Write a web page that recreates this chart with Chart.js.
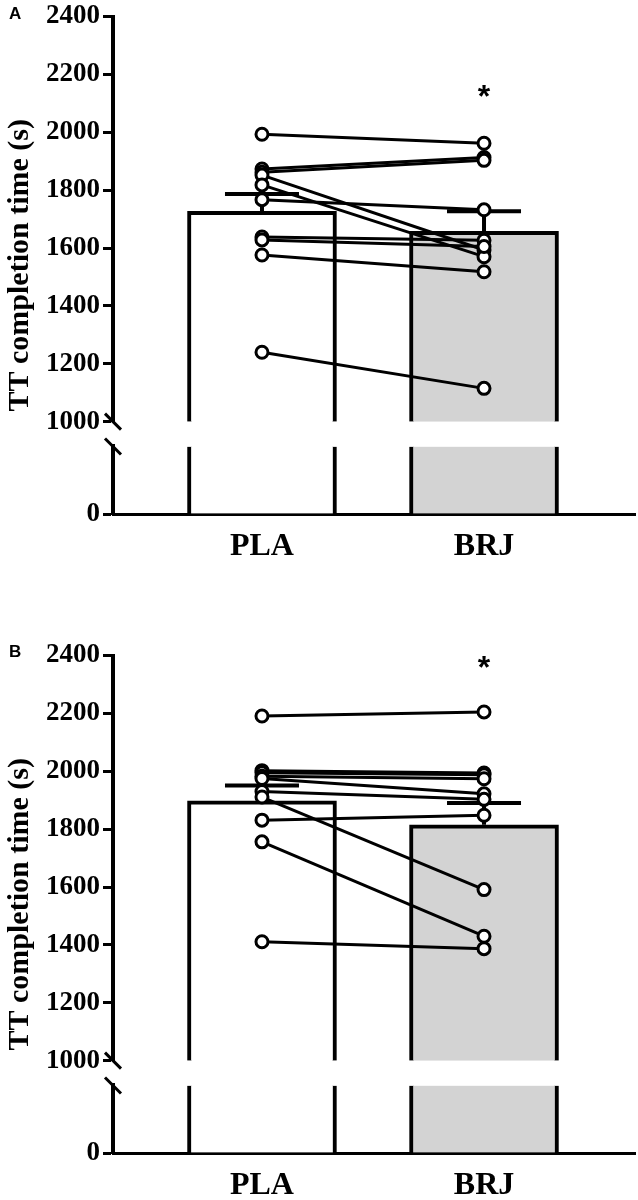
<!DOCTYPE html>
<html>
<head>
<meta charset="utf-8">
<script src="https://cdn.jsdelivr.net/npm/chart.js@4.4.1/dist/chart.umd.min.js"></script>
<style>
  body { margin: 0; background: #fff; width: 638px; height: 1200px; position: relative; overflow: hidden; }
  .panel { position: absolute; left: 0; width: 638px; }
  .tag { position: absolute; left: 9px; font: bold 17px "Liberation Sans", Arial, sans-serif; color: #000; }
</style>
</head>
<body>
<div class="panel" style="top:0"><canvas id="chartA" width="638" height="575"></canvas></div>
<div class="tag" style="top:4px">A</div>
<div class="panel" style="top:639px"><canvas id="chartB" width="638" height="575"></canvas></div>
<div class="tag" style="top:642px">B</div>

<script>
const categories = ['PLA', 'BRJ'];
const upperTicks = [1000, 1200, 1400, 1600, 1800, 2000, 2200, 2400];
const lowerTicks = [0];
const yTitle = 'TT completion time (s)';

// panel A: individual times, paired by position
const plaA = [1993, 1873, 1862, 1852, 1818, 1767, 1638, 1628, 1576, 1240];
const brjA = [1962, 1913, 1903, 1593, 1570, 1732, 1627, 1605, 1518, 1115];
const meanA = [1727, 1658];
const semA = [60, 69];
const starA = 2136;

// panel B
const plaB = [2191, 2002, 1995, 1983, 1975, 1930, 1911, 1831, 1756, 1411];
const brjB = [2205, 1994, 1988, 1974, 1922, 1903, 1591, 1848, 1430, 1387];
const meanB = [1898, 1815];
const semB = [53, 75];
const starB = 2372;

const SERIF = '"Liberation Serif", "Times New Roman", serif';
const SANS = '"Liberation Sans", Arial, sans-serif';

// error bars, axis break marks, title and the significance star
const decor = {
  id: 'decor',
  beforeDatasetsDraw(chart, args, opts) {
    const ctx = chart.ctx, x = chart.scales.x, y = chart.scales.yUp;
    ctx.save();
    ctx.strokeStyle = '#000';
    ctx.lineWidth = 4;
    opts.mean.forEach((m, i) => {
      const px = x.getPixelForValue(i + 1);
      const p0 = y.getPixelForValue(m);
      const p1 = y.getPixelForValue(m + opts.sem[i]);
      ctx.beginPath();
      ctx.moveTo(px, p0);
      ctx.lineTo(px, p1);
      ctx.moveTo(px - 37, p1);
      ctx.lineTo(px + 37, p1);
      ctx.stroke();
    });
    ctx.restore();
  },
  afterDraw(chart, args, opts) {
    const ctx = chart.ctx, area = chart.chartArea;
    const x = chart.scales.x, yUp = chart.scales.yUp, yLow = chart.scales.yLow;
    ctx.save();
    ctx.strokeStyle = '#000';
    ctx.lineWidth = 3;
    const ax = area.left;
    [yUp.bottom, yLow.top].forEach(py => {
      ctx.beginPath();
      ctx.moveTo(ax - 8, py - 8);
      ctx.lineTo(ax + 8, py + 8);
      ctx.stroke();
    });

    ctx.fillStyle = '#000';
    ctx.font = 'bold 32px ' + SANS;
    ctx.textAlign = 'center';
    ctx.textBaseline = 'alphabetic';
    ctx.fillText('*', x.getPixelForValue(2), yUp.getPixelForValue(opts.star) + 14);

    ctx.translate(20, (area.top + area.bottom) / 2);
    ctx.rotate(-Math.PI / 2);
    ctx.font = 'bold 30px ' + SERIF;
    ctx.textBaseline = 'middle';
    ctx.fillText(yTitle, 0, 0);
    ctx.restore();
  }
};

function yAxis(opts) {
  return Object.assign({
    type: 'linear',
    position: 'left',
    stack: 'left',
    afterFit: s => { s.width = 113; },
    ticks: {
      color: '#000', padding: 3,
      font: { family: SERIF, size: 27, weight: 'bold', lineHeight: 1 },
      callback: v => String(v)
    },
    grid: { drawOnChartArea: false, tickLength: 10, tickWidth: 3, tickColor: '#000' },
    border: { display: true, width: 4, color: '#000' }
  }, opts);
}

function makeChart(id, pla, brj, mean, sem, star) {
  const lines = pla.map((v, i) => ({
    type: 'line',
    yAxisID: 'yUp',
    data: [{ x: 1, y: v }, { x: 2, y: brj[i] }],
    borderColor: '#000',
    borderWidth: 3,
    pointRadius: 0,
    order: 2
  }));
  const points = {
    type: 'scatter',
    yAxisID: 'yUp',
    data: pla.map(v => ({ x: 1, y: v })).concat(brj.map(v => ({ x: 2, y: v }))),
    pointRadius: 6,
    pointBorderWidth: 3,
    pointBorderColor: '#000',
    pointBackgroundColor: '#fff',
    order: 0
  };
  const barsUp = {
    type: 'bar',
    yAxisID: 'yUp',
    grouped: false,
    data: mean.map((m, i) => ({ x: i + 1, y: [1000, m] })),
    backgroundColor: ['#ffffff', '#d3d3d3'],
    borderColor: '#000',
    borderWidth: 4,
    borderSkipped: 'start',
    barThickness: 149,
    order: 5
  };
  const barsLow = {
    type: 'bar',
    yAxisID: 'yLow',
    grouped: false,
    data: mean.map((m, i) => ({ x: i + 1, y: [0, 1000] })),
    backgroundColor: ['#ffffff', '#d3d3d3'],
    borderColor: '#000',
    borderWidth: { left: 4, right: 4, top: 0, bottom: 0 },
    borderSkipped: false,
    barThickness: 149,
    order: 5
  };

  return new Chart(document.getElementById(id), {
    type: 'bar',
    data: { datasets: [barsUp, barsLow].concat(lines, [points]) },
    plugins: [decor],
    options: {
      responsive: false,
      animation: false,
      layout: { autoPadding: false, padding: { top: 13, right: 3, bottom: 9, left: 0 } },
      plugins: {
        legend: { display: false },
        tooltip: { enabled: false },
        decor: { mean: mean, sem: sem, star: star }
      },
      scales: {
        x: {
          type: 'linear',
          min: 0.329,
          max: 2.68,
          offset: false,
          afterBuildTicks: s => { s.ticks = categories.map((c, i) => ({ value: i + 1 })); },
          afterFit: s => { s.height = 52; s.paddingLeft = 0; s.paddingRight = 0; },
          ticks: {
            color: '#000',
            padding: 14,
            font: { family: SERIF, size: 32, weight: 'bold' },
            callback: v => categories[v - 1]
          },
          grid: { display: false, drawTicks: false, offset: false },
          border: { display: true, width: 3, color: '#000' }
        },
        yLow: yAxis({
          weight: 1, stackWeight: 68, min: 0, max: 1000,
          afterBuildTicks: s => { s.ticks = lowerTicks.map(v => ({ value: v })); }
        }),
        yGap: yAxis({
          weight: 2, stackWeight: 25, min: 0, max: 1,
          ticks: { display: false },
          grid: { display: false, drawTicks: false },
          border: { display: false }
        }),
        yUp: yAxis({
          weight: 3, stackWeight: 408, min: 1000, max: 2400,
          afterBuildTicks: s => { s.ticks = upperTicks.map(v => ({ value: v })); }
        })
      }
    }
  });
}

makeChart('chartA', plaA, brjA, meanA, semA, starA);
makeChart('chartB', plaB, brjB, meanB, semB, starB);
</script>
</body>
</html>
